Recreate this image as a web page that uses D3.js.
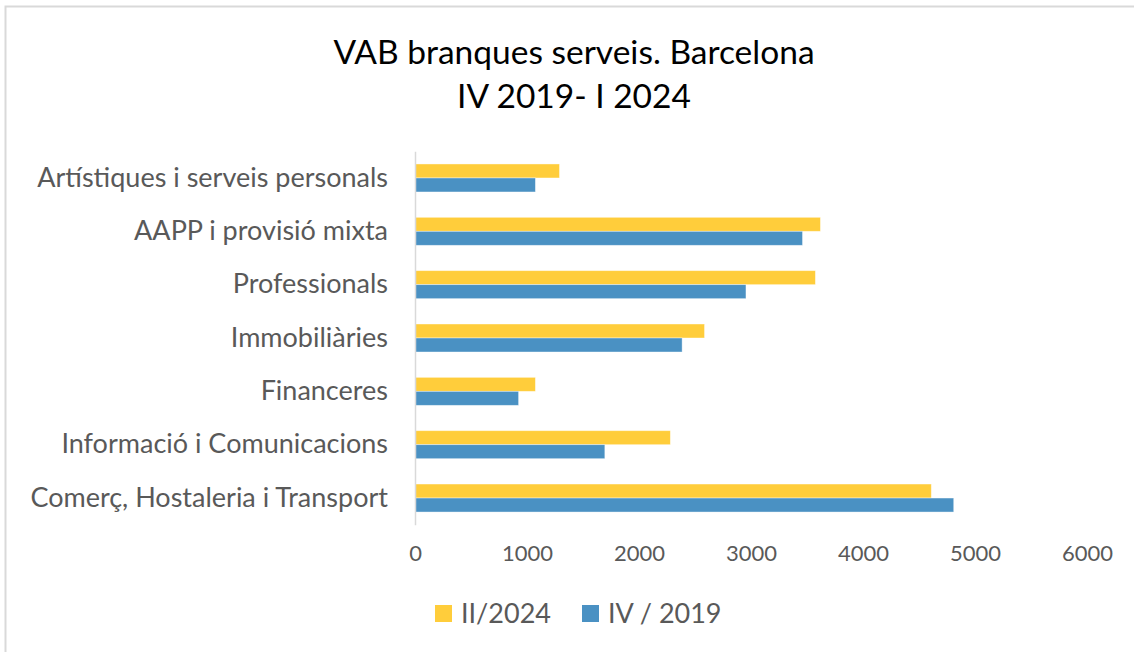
<!DOCTYPE html>
<html>
<head>
<meta charset="utf-8">
<script src="https://cdn.jsdelivr.net/npm/d3@7"></script>
<style>
  body { margin: 0; background: #fff; }
  text { font-family: Lato, "Open Sans", sans-serif; }
</style>
</head>
<body>
<svg id="chart" width="1134" height="652"></svg>
<script>
// data
var categories = [
    'Artístiques i serveis personals',
    'AAPP i provisió mixta',
    'Professionals',
    'Immobiliàries',
    'Financeres',
    'Informació i Comunicacions',
    'Comerç, Hostaleria i Transport'
];
var values2024 = [1290, 3620, 3575, 2585, 1075, 2280, 4610];
var values2019 = [1075, 3460, 2955, 2385, 925, 1695, 4810];
var seriesNames = ['II/2024', 'IV / 2019'];
var xTicks = [0, 1000, 2000, 3000, 4000, 5000, 6000];
var titleLines = ['VAB branques serveis. Barcelona', 'IV 2019- I 2024'];

var colors = ['#FFCD3B', '#4A91C3'];
var svg = d3.select('#chart');

// outer frame
svg.append('rect')
    .attr('x', 5.5).attr('y', 6.5)
    .attr('width', 1140).attr('height', 660)
    .attr('fill', '#fff')
    .attr('stroke', '#d9d9d9')
    .attr('stroke-width', 2);

var x = d3.scaleLinear().domain([0, 6000]).range([415, 1087]);
var y = d3.scaleBand().domain(categories).range([151.3, 524.7]).paddingInner(0.475).paddingOuter(0.2375);
var ySub = d3.scaleBand().domain([0, 1]).range([0, y.bandwidth()]);

// title
svg.append('g').selectAll('text').data(titleLines).enter().append('text')
    .attr('x', 574)
    .attr('y', function (d, i) { return 64 + i * 44; })
    .attr('text-anchor', 'middle')
    .attr('font-size', 33.5)
    .attr('fill', '#000')
    .text(function (d) { return d; });

// bars
var series = [values2024, values2019];
var gBars = svg.append('g');
series.forEach(function (vals, s) {
    gBars.selectAll('.bar' + s).data(vals).enter().append('rect')
        .attr('class', 'bar' + s)
        .attr('x', x(0))
        .attr('y', function (d, i) { return y(categories[i]) + ySub(s); })
        .attr('width', function (d) { return x(d) - x(0); })
        .attr('height', ySub.bandwidth())
        .attr('fill', colors[s])
        .attr('stroke', '#fff')
        .attr('stroke-opacity', 0.5)
        .attr('stroke-width', 0.8);
});

// vertical axis line + category labels
var yAxis = d3.axisLeft(y).tickSize(0).tickPadding(27);
var gy = svg.append('g').attr('transform', 'translate(' + x(0) + ',0)').call(yAxis);
gy.select('.domain').attr('stroke', '#d9d9d9').attr('stroke-width', 1.5);
gy.selectAll('text')
    .attr('font-family', 'Lato, sans-serif')
    .attr('font-size', 27)
    .attr('fill', '#595959');

// x tick labels (no line)
var xAxis = d3.axisBottom(x).tickValues(xTicks).tickSize(0).tickPadding(0).tickFormat(d3.format('d'));
var gx = svg.append('g').attr('transform', 'translate(0,545)').call(xAxis);
gx.select('.domain').remove();
gx.selectAll('text')
    .attr('font-family', 'Lato, sans-serif')
    .attr('font-size', 22)
    .attr('fill', '#595959');

// legend
var legendX = [435, 582];
var gl = svg.append('g');
seriesNames.forEach(function (name, s) {
    gl.append('rect')
        .attr('x', legendX[s]).attr('y', 605)
        .attr('width', 17).attr('height', 17)
        .attr('fill', colors[s]);
    gl.append('text')
        .attr('x', legendX[s] + 26).attr('y', 623)
        .attr('font-size', 27)
        .attr('fill', '#595959')
        .text(name);
});
</script>
</body>
</html>
